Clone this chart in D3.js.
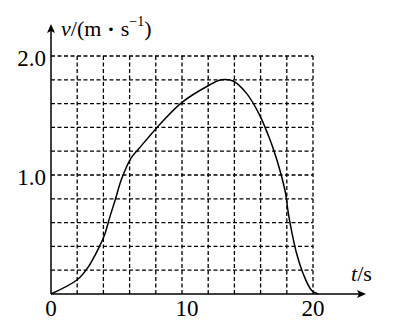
<!DOCTYPE html>
<html>
<head>
<meta charset="utf-8">
<script src="https://cdn.jsdelivr.net/npm/d3@7"></script>
<style>
html,body{margin:0;padding:0;background:#fff;}
svg{display:block;}
text{font-family:"Liberation Serif","Times New Roman",serif;fill:#000;}
</style>
</head>
<body>
<svg id="chart" width="394" height="334"></svg>
<script>
// Data
const timeValues = [0, 2, 2.8, 3.7, 4.1, 4.5, 4.9, 5.4, 6.1, 6.7, 8.1, 10.0, 12.0, 13.0, 13.9, 14.9, 15.9, 16.6, 17.0, 17.5, 17.9, 18.1, 18.4, 18.75, 19.25, 19.9, 20.4];
const speedValues = [0, 0.12, 0.22, 0.40, 0.50, 0.65, 0.79, 0.97, 1.14, 1.22, 1.40, 1.61, 1.75, 1.80, 1.79, 1.69, 1.51, 1.33, 1.21, 1.03, 0.85, 0.69, 0.51, 0.34, 0.17, 0.03, 0];
const xGridTicks = [2, 4, 6, 8, 10, 12, 14, 16, 18, 20];
const yGridTicks = [0.2, 0.4, 0.6, 0.8, 1.0, 1.2, 1.4, 1.6, 1.8, 2.0];
const xTickLabels = [{v: 0, label: "0"}, {v: 10, label: "10"}, {v: 20, label: "20"}];
const yTickLabels = [{v: 1.0, label: "1.0"}, {v: 2.0, label: "2.0"}];

const svg = d3.select("#chart");
const x = d3.scaleLinear().domain([0, 20]).range([51, 313]);
const y = d3.scaleLinear().domain([0, 2]).range([294, 56]);

const grid = svg.append("g").attr("stroke", "#000").attr("stroke-width", 1.3).attr("stroke-dasharray", "4,2.5").attr("fill", "none");
grid.selectAll("line.v").data(xGridTicks).join("line").attr("class", "v")
  .attr("x1", d => x(d)).attr("x2", d => x(d)).attr("y1", y(0)).attr("y2", y(2));
grid.selectAll("line.h").data(yGridTicks).join("line").attr("class", "h")
  .attr("x1", x(0)).attr("x2", x(20)).attr("y1", d => y(d)).attr("y2", d => y(d));

// axes
const ax = svg.append("g").attr("stroke", "#000").attr("stroke-width", 1.5);
ax.append("line").attr("x1", x(0)).attr("x2", 360).attr("y1", y(0)).attr("y2", y(0));
ax.append("line").attr("x1", x(0)).attr("x2", x(0)).attr("y1", y(0)).attr("y2", 30);
svg.append("path").attr("d", `M366,${y(0)} L357,${y(0)-4} L359,${y(0)} L357,${y(0)+4} Z`).attr("fill", "#000");
svg.append("path").attr("d", `M${x(0)},24 L${x(0)-4},33 L${x(0)},31 L${x(0)+4},33 Z`).attr("fill", "#000");

// curve
const pts = timeValues.map((t, i) => [t, speedValues[i]]);
svg.append("path").datum(pts)
  .attr("d", d3.line().x(d => x(d[0])).y(d => y(d[1])).curve(d3.curveCatmullRom.alpha(0.5)))
  .attr("fill", "none").attr("stroke", "#000").attr("stroke-width", 1.5);

// tick labels
svg.selectAll("text.xt").data(xTickLabels).join("text").attr("class", "xt")
  .attr("x", d => x(d.v) + (d.v === 10 ? 5 : 0)).attr("y", 316)
  .attr("text-anchor", "middle").attr("font-size", 23).text(d => d.label);
svg.selectAll("text.yt").data(yTickLabels).join("text").attr("class", "yt")
  .attr("x", 46).attr("y", d => y(d.v) + 10)
  .attr("text-anchor", "end").attr("font-size", 23).text(d => d.label);

// axis titles
const yt = svg.append("text").attr("x", 61).attr("y", 36).attr("font-size", 22);
yt.append("tspan").attr("font-style", "italic").text("v");
yt.append("tspan").text("/(m");
yt.append("tspan").attr("dx", 6).attr("font-weight", "bold").text("\u00B7");
yt.append("tspan").attr("dx", 6).text("s");
yt.append("tspan").attr("font-size", 14).attr("dy", -10).text("−1");
yt.append("tspan").attr("dy", 10).text(")");

const xt = svg.append("text").attr("x", 351).attr("y", 281).attr("font-size", 22);
xt.append("tspan").attr("font-style", "italic").text("t");
xt.append("tspan").text("/s");
</script>
</body>
</html>
